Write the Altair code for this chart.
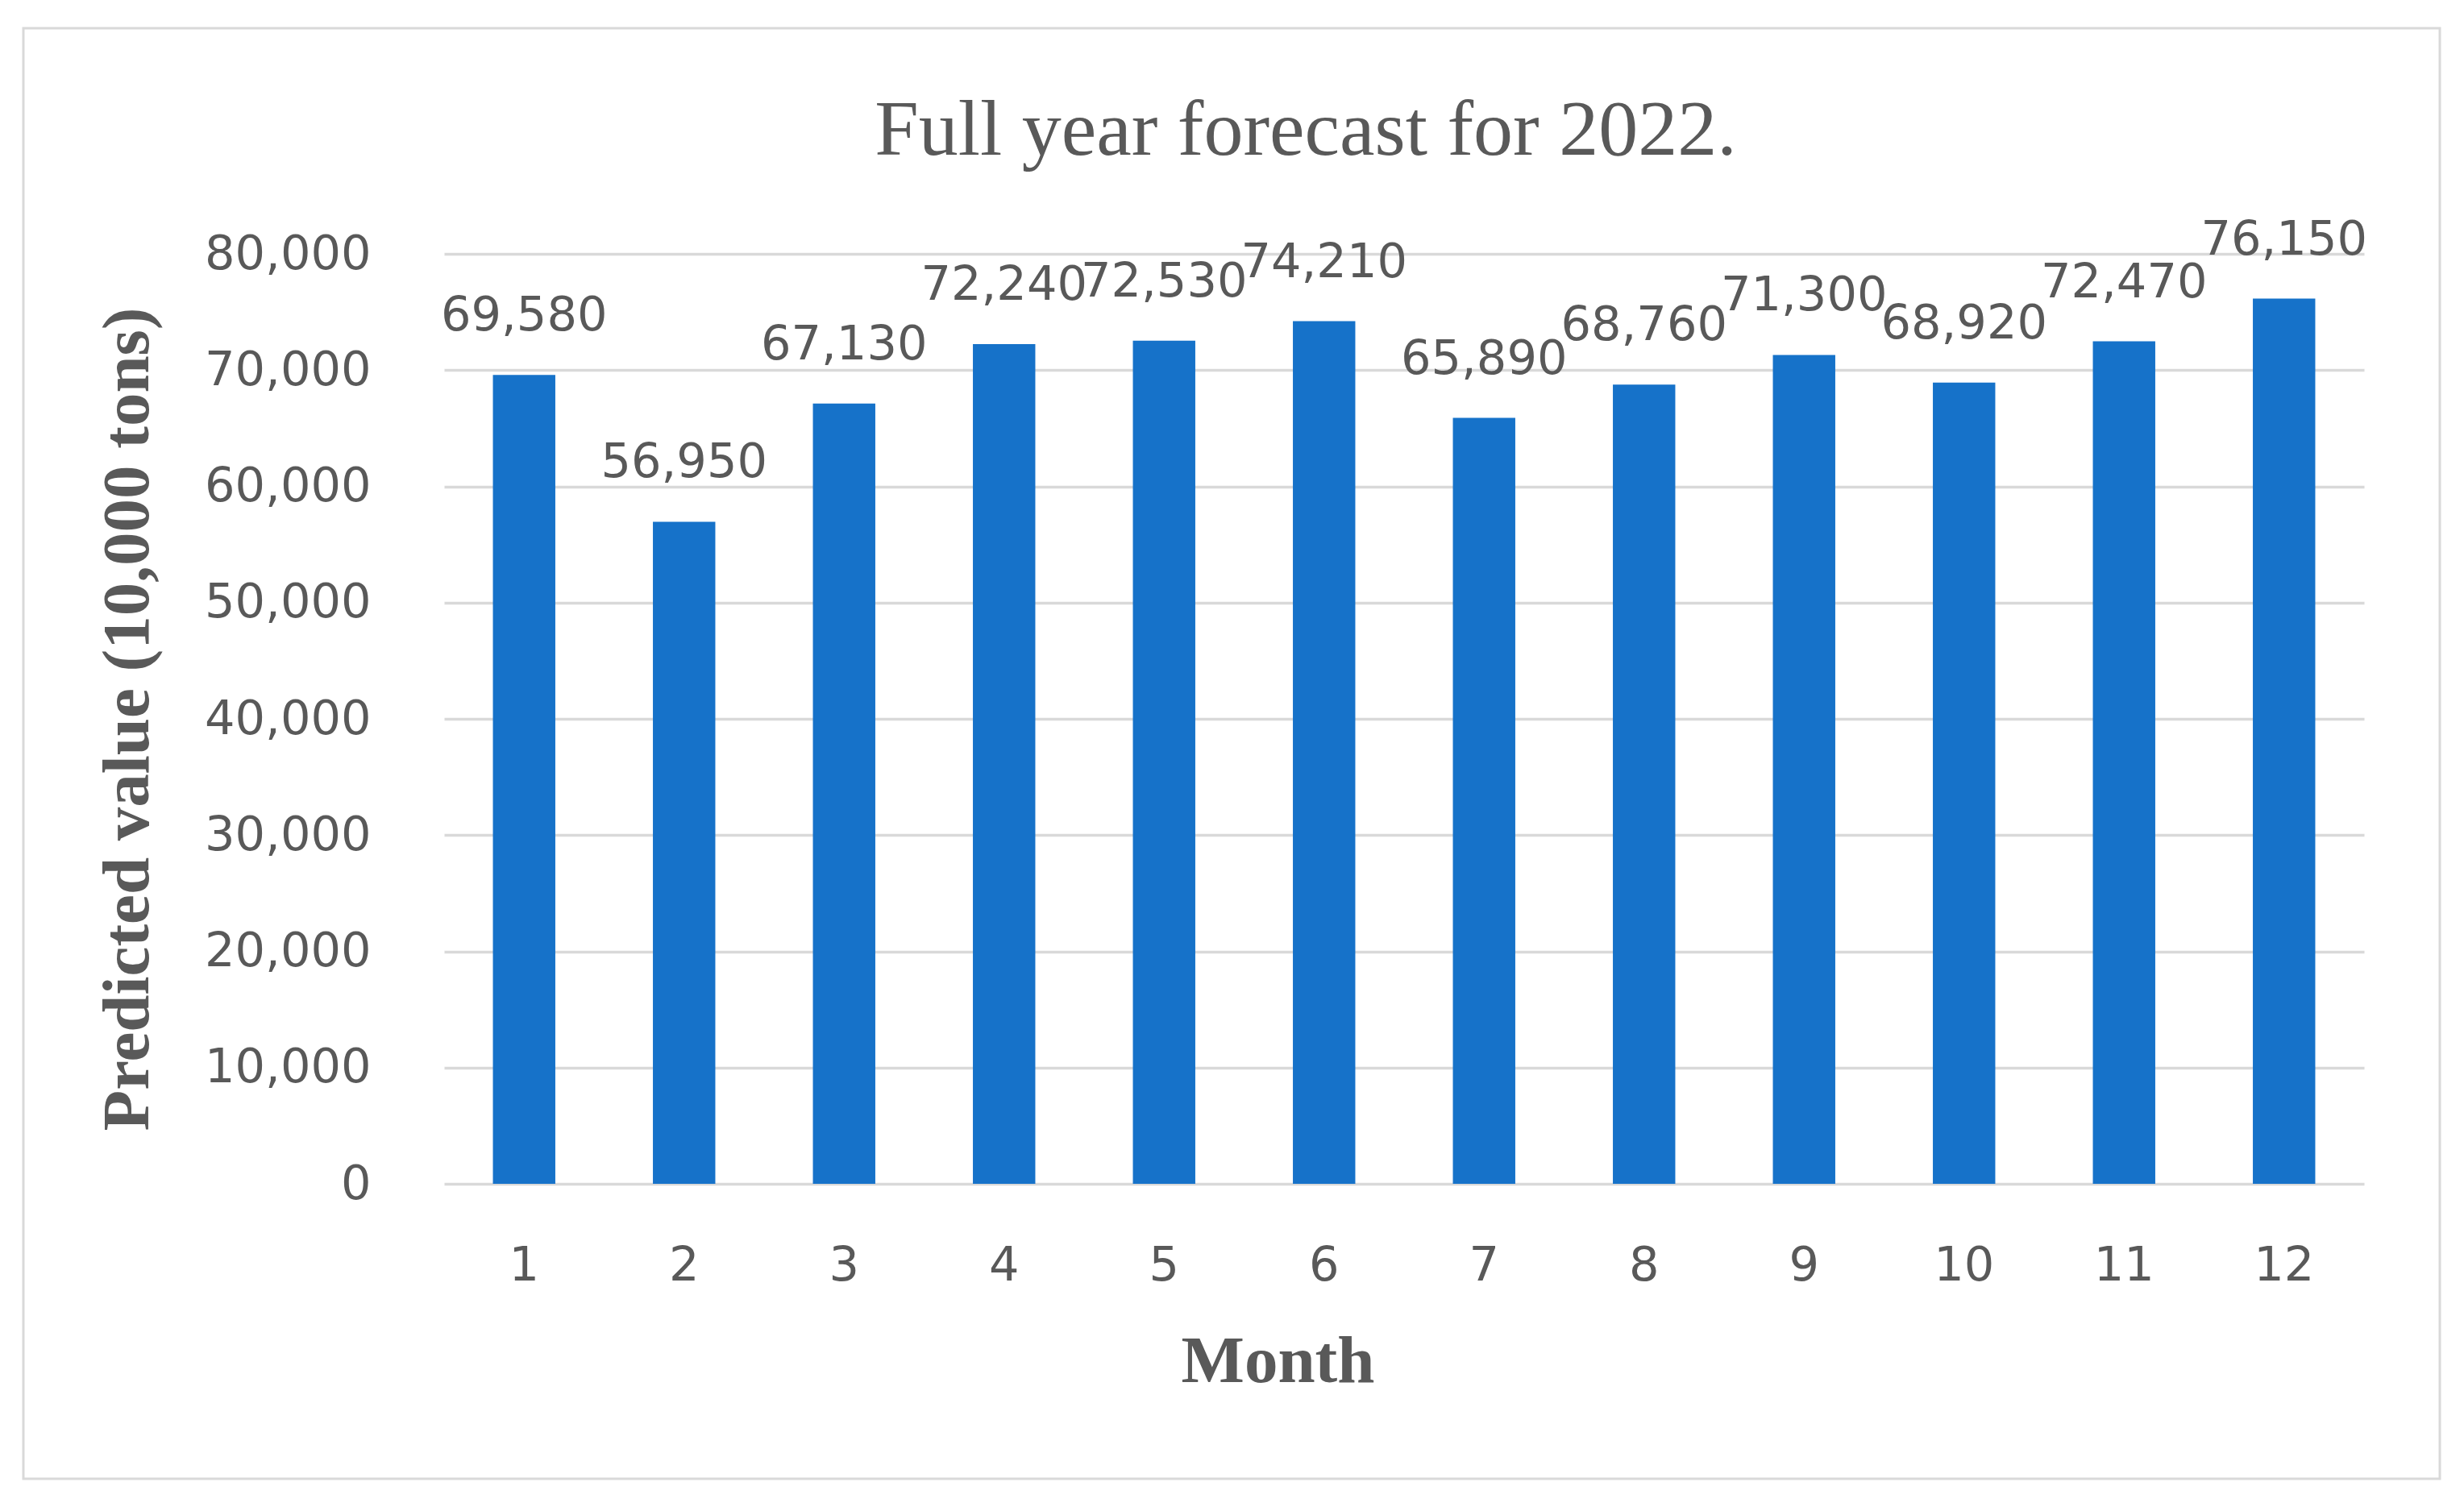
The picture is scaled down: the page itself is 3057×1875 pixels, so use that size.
import altair as alt
import pandas as pd

# ---- data ----
months = ["1", "2", "3", "4", "5", "6", "7", "8", "9", "10", "11", "12"]
values = [69580, 56950, 67130, 72240, 72530, 74210, 65890, 68760, 71300, 68920, 72470, 76150]
y_ticks = [0, 10000, 20000, 30000, 40000, 50000, 60000, 70000, 80000]
title_text = "Full year forecast for 2022."
x_title = "Month"
y_title = "Predicted value (10,000 tons)"

df = pd.DataFrame({"Month": months, "Value": values})

W, H = 2382, 1154
GRAY = "#595959"
GRID = "#d9d9d9"
BAR = "#1672C9"
SANS = "DejaVu Sans"
SERIF = "Liberation Serif"

x_scale = alt.Scale(paddingInner=0.61, paddingOuter=0.305)
y_scale = alt.Scale(domain=[0, 80000], nice=False)

x_axis = alt.Axis(
    title=x_title, labelAngle=0, labelFont=SANS, labelFontSize=59, labelColor=GRAY,
    labelPadding=72, labelLimit=600, ticks=False, tickSize=0, domain=False, grid=False,
    titleFont=SERIF, titleFontWeight="bold", titleFontSize=83, titleColor=GRAY,
    titleX=1034, titleY=245, titleBaseline="alphabetic", titleAlign="center",
    titleLimit=2000,
)
y_axis = alt.Axis(
    title=y_title, values=y_ticks, format=",.0f", formatType="number",
    labelFont=SANS, labelFontSize=59, labelLimit=600,
    labelColor=GRAY, labelPadding=91, ticks=False, tickSize=0, domain=False,
    grid=True, gridColor=GRID, gridWidth=3.5,
    titleFont=SERIF, titleFontWeight="bold", titleFontSize=83, titleColor=GRAY,
    titleX=-368, titleY=H / 2, titleBaseline="alphabetic", titleAlign="center",
    titleAngle=270, titleLimit=2000,
)

base = alt.Chart(df)
x_enc = alt.X("Month:N", sort=months, scale=x_scale, axis=x_axis)
y_enc = alt.Y("Value:Q", scale=y_scale, axis=y_axis)

bars = base.mark_bar(color=BAR).encode(x=x_enc, y=y_enc)
labels = base.mark_text(
    font=SANS, fontSize=59, color=GRAY, baseline="alphabetic", align="center", dy=-55
).encode(
    x=x_enc,
    y=y_enc,
    text=alt.Text("Value:Q", format=",.0f"),
)

frame = alt.Chart(pd.DataFrame({"k": [0]})).mark_rect(
    fillOpacity=0, stroke=GRID, strokeWidth=3
).encode(
    x=alt.value(-522), x2=alt.value(2476), y=alt.value(-280), y2=alt.value(1520)
)

title_mark = alt.Chart(pd.DataFrame({"t": [title_text]})).mark_text(
    font=SERIF, fontSize=98, color=GRAY, align="center", baseline="alphabetic"
).encode(text="t:N", x=alt.value(1069), y=alt.value(-123))

chart = alt.layer(bars, labels, frame, title_mark).properties(
    width=W, height=H,
    padding={"left": 543, "top": 307, "right": 116, "bottom": 390},
    autosize=alt.AutoSizeParams(type="none"),
    background="white",
).configure_view(stroke=None)

chart.save("out.html", embed_options={"renderer": "svg", "actions": False})
